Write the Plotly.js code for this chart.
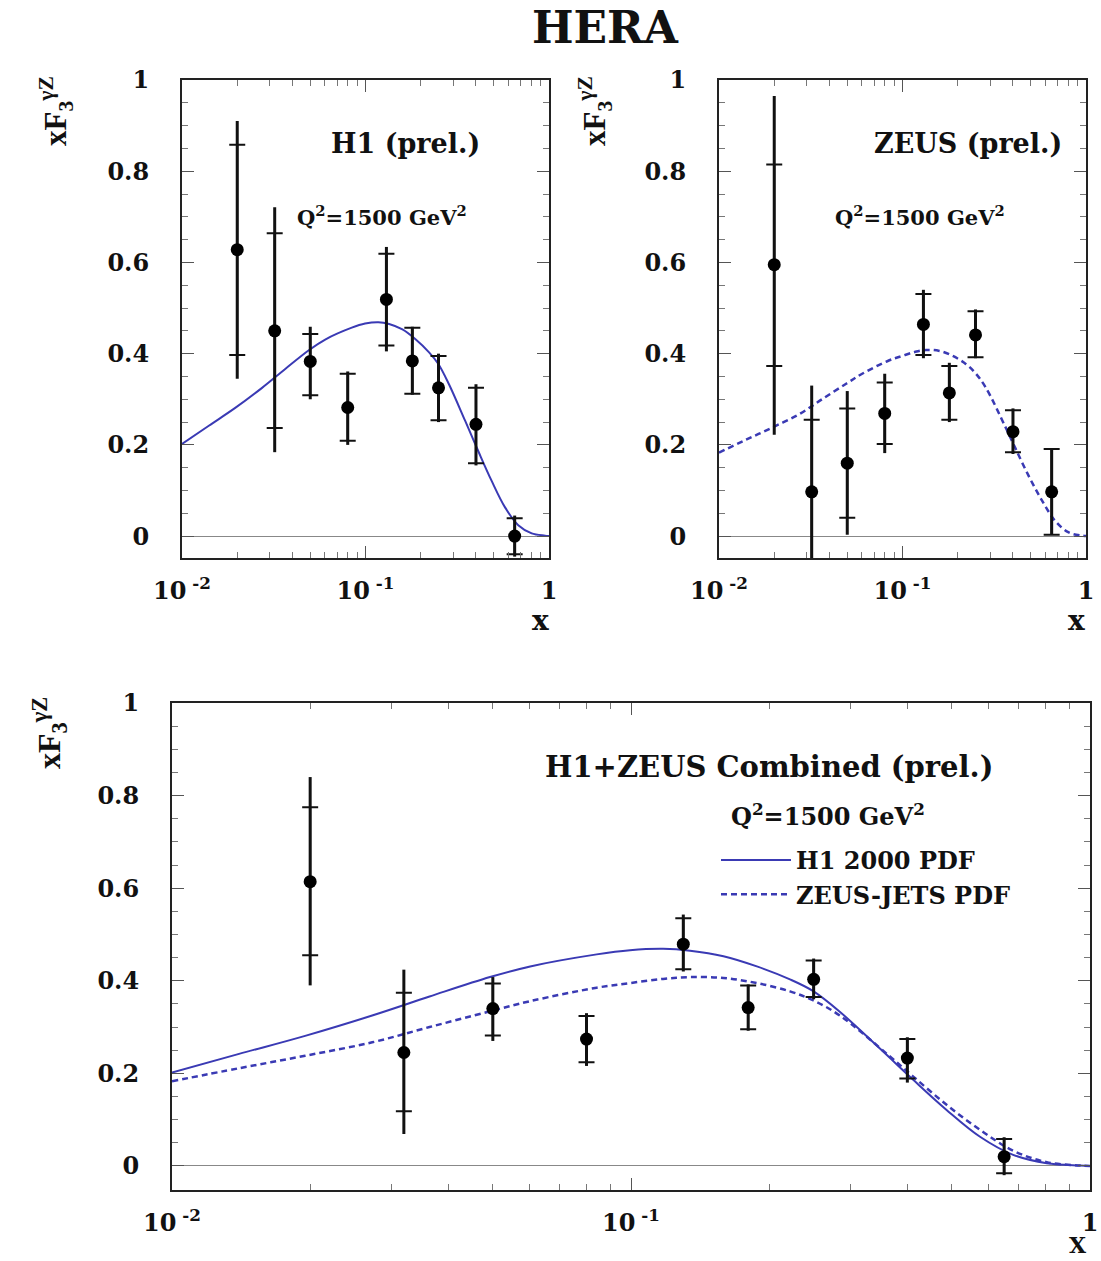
<!DOCTYPE html>
<html>
<head>
<meta charset="utf-8">
<script src="https://cdn.plot.ly/plotly-3.0.1.min.js"></script>
<style>html,body{margin:0;padding:0;background:#fff;}#chart{width:1101px;height:1261px;}</style>
</head>
<body>
<div id="chart"></div>
<script>
// ---------- data ----------
const xData = [0.02, 0.032, 0.05, 0.08, 0.13, 0.18, 0.25, 0.40, 0.65];

const h1Y        = [0.628, 0.450, 0.383, 0.282, 0.519, 0.384, 0.325, 0.245, 0.000];
const h1StatUp   = [0.230, 0.214, 0.060, 0.074, 0.100, 0.073, 0.070, 0.080, 0.039];
const h1StatDn   = [0.231, 0.213, 0.074, 0.073, 0.101, 0.072, 0.071, 0.085, 0.040];
const h1TotUp    = [0.282, 0.271, 0.076, 0.079, 0.115, 0.075, 0.075, 0.088, 0.045];
const h1TotDn    = [0.283, 0.266, 0.083, 0.082, 0.114, 0.074, 0.075, 0.090, 0.045];

const zeusY      = [0.595, 0.097, 0.160, 0.269, 0.464, 0.314, 0.441, 0.229, 0.097];
const zeusStatUp = [0.220, 0.158, 0.120, 0.068, 0.067, 0.059, 0.052, 0.047, 0.094];
const zeusStatDn = [0.222, 0.158, 0.120, 0.067, 0.067, 0.059, 0.049, 0.045, 0.094];
const zeusTotUp  = [0.370, 0.233, 0.158, 0.087, 0.076, 0.066, 0.056, 0.051, 0.094];
const zeusTotDn  = [0.373, 0.233, 0.157, 0.087, 0.074, 0.064, 0.051, 0.049, 0.094];

const combY      = [0.614, 0.245, 0.340, 0.274, 0.479, 0.342, 0.403, 0.233, 0.020];
const combStatUp = [0.161, 0.129, 0.054, 0.050, 0.056, 0.048, 0.041, 0.041, 0.038];
const combStatDn = [0.159, 0.127, 0.058, 0.050, 0.054, 0.047, 0.038, 0.044, 0.036];
const combTotUp  = [0.226, 0.179, 0.068, 0.056, 0.064, 0.050, 0.045, 0.045, 0.042];
const combTotDn  = [0.224, 0.176, 0.070, 0.058, 0.059, 0.050, 0.043, 0.053, 0.040];

// H1 2000 PDF curve (solid)
const h1PdfX   = [0.01, 0.014, 0.0195, 0.0273, 0.0364, 0.0493, 0.0603, 0.0842, 0.0995, 0.1175, 0.1345, 0.159, 0.188, 0.222, 0.249, 0.285, 0.349, 0.412, 0.487, 0.576, 0.680, 0.805, 0.951, 1.0];
const h1PdfY   = [0.202, 0.242, 0.281, 0.325, 0.366, 0.408, 0.431, 0.457, 0.466, 0.469, 0.465, 0.453, 0.431, 0.403, 0.378, 0.333, 0.253, 0.186, 0.121, 0.063, 0.024, 0.006, 0.001, 0.0];
// ZEUS-JETS PDF curve (dashed)
const zeusPdfX = [0.01, 0.014, 0.0195, 0.0273, 0.0364, 0.0493, 0.0603, 0.0842, 0.0995, 0.1175, 0.1345, 0.159, 0.188, 0.222, 0.249, 0.285, 0.366, 0.412, 0.487, 0.576, 0.680, 0.805, 0.951, 1.0];
const zeusPdfY = [0.183, 0.211, 0.238, 0.267, 0.300, 0.334, 0.356, 0.385, 0.395, 0.404, 0.408, 0.406, 0.395, 0.377, 0.358, 0.325, 0.237, 0.193, 0.132, 0.078, 0.033, 0.008, 0.001, 0.0];

const xTickVals = [0.01, 0.1, 1];
const xTickText = ['10<sup> -2</sup>', '10<sup> -1</sup>', '1'];
const xMinorVals = [0.02,0.03,0.04,0.05,0.06,0.07,0.08,0.09,0.2,0.3,0.4,0.5,0.6,0.7,0.8,0.9];
const yTickVals = [0, 0.2, 0.4, 0.6, 0.8, 1];
const yTickText = ['0', '0.2', '0.4', '0.6', '0.8', '1'];

const panelLabels = ['H1 (prel.)', 'ZEUS (prel.)', 'H1+ZEUS Combined (prel.)'];
const q2Label = 'Q<sup>2</sup>=1500 GeV<sup>2</sup>';
const yTitle = 'xF<sub>3</sub><sup>γZ</sup>';
const curveNames = ['H1 2000 PDF', 'ZEUS-JETS PDF'];

// ---------- styling ----------
const W = 1101, H = 1261;
const FONT = 'DejaVu Serif, Liberation Serif, serif';
const FONT_NARROW = 'Liberation Serif, Times New Roman, serif';
const BLUE = '#3a3ab4';
const px = v => v / W;
const py = v => 1 - v / H;

function dataTraces(y, su, sd, tu, td, xa, ya) {
  return [
    { type: 'scatter', mode: 'markers', x: xData, y: y, xaxis: xa, yaxis: ya,
      marker: { size: 1, color: 'rgba(0,0,0,0)' }, showlegend: false, hoverinfo: 'skip',
      error_y: { type: 'data', symmetric: false, array: tu, arrayminus: td, width: 0, thickness: 3, color: '#111' } },
    { type: 'scatter', mode: 'markers', x: xData, y: y, xaxis: xa, yaxis: ya,
      marker: { size: 13, color: '#000', symbol: 'circle' }, showlegend: false,
      error_y: { type: 'data', symmetric: false, array: su, arrayminus: sd, width: 8, thickness: 2, color: '#111' } }
  ];
}

const traces = [
  { type: 'scatter', mode: 'lines', x: h1PdfX, y: h1PdfY, xaxis: 'x', yaxis: 'y', showlegend: false,
    line: { color: BLUE, width: 2, shape: 'spline' } },
  ...dataTraces(h1Y, h1StatUp, h1StatDn, h1TotUp, h1TotDn, 'x', 'y'),
  { type: 'scatter', mode: 'lines', x: zeusPdfX, y: zeusPdfY, xaxis: 'x2', yaxis: 'y2', showlegend: false,
    line: { color: BLUE, width: 2.5, dash: '6px,4px', shape: 'spline' } },
  ...dataTraces(zeusY, zeusStatUp, zeusStatDn, zeusTotUp, zeusTotDn, 'x2', 'y2'),
  { type: 'scatter', mode: 'lines', x: h1PdfX, y: h1PdfY, xaxis: 'x3', yaxis: 'y3', name: curveNames[0], showlegend: true,
    line: { color: BLUE, width: 2, shape: 'spline' } },
  { type: 'scatter', mode: 'lines', x: zeusPdfX, y: zeusPdfY, xaxis: 'x3', yaxis: 'y3', name: curveNames[1], showlegend: true,
    line: { color: BLUE, width: 2.5, dash: '6px,4px', shape: 'spline' } },
  ...dataTraces(combY, combStatUp, combStatDn, combTotUp, combTotDn, 'x3', 'y3')
];

function xAxis(domain, anchor) {
  return { type: 'log', domain: domain, anchor: anchor, range: [-2, 0],
    tickmode: 'array', tickvals: xTickVals, ticktext: xTickText,
    ticks: 'inside', ticklen: 12, tickwidth: 1, tickcolor: '#555',
    showline: true, linecolor: '#222', linewidth: 2, mirror: 'ticks',
    showgrid: false, zeroline: false, ticklabelstandoff: 10,
    tickfont: { family: FONT, size: 24, color: '#111', weight: 'bold' },
    minor: { tickmode: 'array', tickvals: xMinorVals, ticks: 'inside', ticklen: 6, tickcolor: '#777', showgrid: false } };
}
function yAxis(domain, anchor, range) {
  return { domain: domain, anchor: anchor, range: range,
    tickmode: 'array', tickvals: yTickVals, ticktext: yTickText,
    ticks: 'inside', ticklen: 12, tickwidth: 1, tickcolor: '#555',
    showline: true, linecolor: '#222', linewidth: 2, mirror: 'ticks',
    showgrid: false, zeroline: true, zerolinecolor: '#888', zerolinewidth: 1,
    ticklabelstandoff: 26,
    tickfont: { family: FONT, size: 24, color: '#111', weight: 'bold' },
    minor: { dtick: 0.05, ticks: 'inside', ticklen: 6, tickcolor: '#777', showgrid: false } };
}

function ann(text, x, y, size, extra, family) {
  return Object.assign({ text: text, x: px(x), y: py(y), xref: 'paper', yref: 'paper',
    showarrow: false, xanchor: 'center', yanchor: 'middle',
    font: { family: family || FONT, size: size, color: '#111', weight: 'bold' } }, extra || {});
}

const layout = {
  width: W, height: H, margin: { l: 0, r: 0, t: 0, b: 0 },
  paper_bgcolor: '#fff', plot_bgcolor: '#fff',
  xaxis:  xAxis([px(182), px(549)], 'y'),
  yaxis:  yAxis([py(558), py(80)], 'x', [-0.048, 1.0]),
  xaxis2: xAxis([px(719), px(1086)], 'y2'),
  yaxis2: yAxis([py(558), py(80)], 'x2', [-0.048, 1.0]),
  xaxis3: xAxis([px(172), px(1090)], 'y3'),
  yaxis3: yAxis([py(1190), py(703)], 'x3', [-0.052, 1.0]),
  showlegend: true,
  legend: { x: px(716), y: py(838), xanchor: 'left', yanchor: 'top', bgcolor: 'rgba(0,0,0,0)',
    itemwidth: 70, tracegroupgap: 0,
    font: { family: FONT, size: 24, color: '#111', weight: 'bold' } },
  annotations: [
    ann('HERA', 605, 27, 44),
    ann(yTitle, 56, 111, 31, { textangle: -90 }, FONT_NARROW),
    ann(yTitle, 595, 111, 31, { textangle: -90 }, FONT_NARROW),
    ann(yTitle, 49, 733, 32, { textangle: -90 }, FONT_NARROW),
    ann(panelLabels[0], 405, 143, 27),
    ann(q2Label, 382, 216, 21),
    ann(panelLabels[1], 968, 143, 27),
    ann(q2Label, 920, 216, 21),
    ann(panelLabels[2], 769, 767, 29),
    ann(q2Label, 828, 815, 24),
    ann('x', 540, 620, 28),
    ann('x', 1076, 620, 28),
    ann('X', 1078, 1245, 22)
  ]
};

Plotly.newPlot('chart', traces, layout, { staticPlot: true });
</script>
</body>
</html>
